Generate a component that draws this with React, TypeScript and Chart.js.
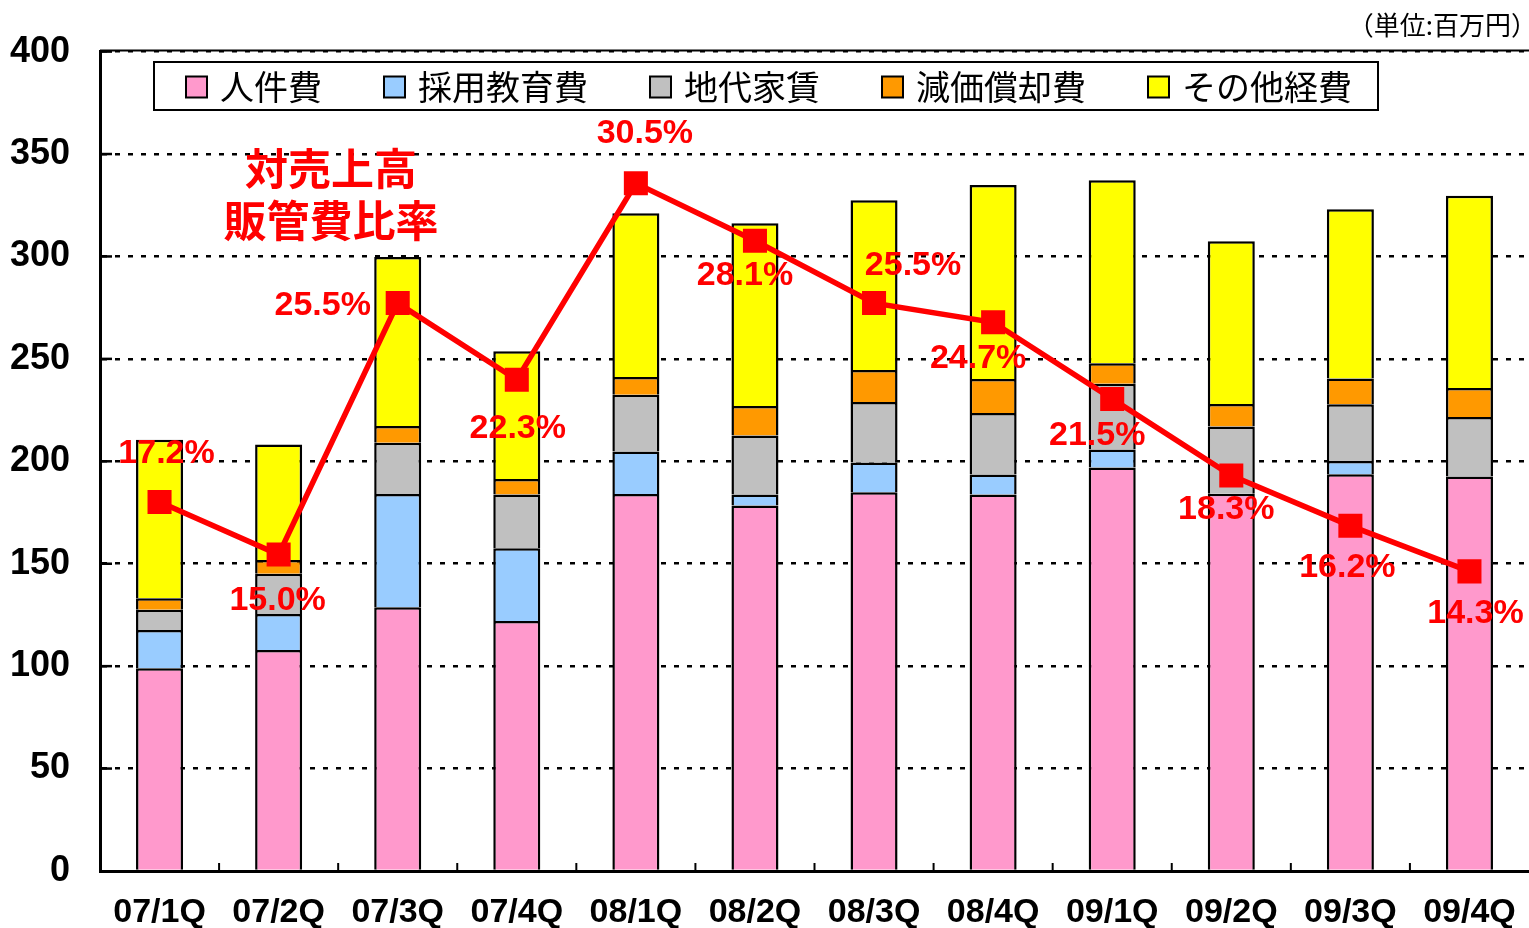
import React, { useEffect, useRef } from 'react';
import { Chart, registerables } from 'chart.js';

Chart.register(...registerables);

const categories = ['07/1Q', '07/2Q', '07/3Q', '07/4Q', '08/1Q', '08/2Q', '08/3Q', '08/4Q', '09/1Q', '09/2Q', '09/3Q', '09/4Q'];
const personnel = [99.0, 107.9, 128.7, 122.1, 184.0, 178.4, 184.9, 183.8, 197.0, 184.1, 193.7, 192.6];
const recruiting = [18.7, 17.5, 55.3, 35.4, 20.8, 5.4, 14.5, 9.7, 8.8, 0, 6.5, 0];
const rent = [9.8, 19.7, 25.0, 26.3, 27.7, 28.8, 29.6, 30.1, 32.1, 32.9, 27.6, 29.0];
const depreciation = [5.6, 6.7, 8.2, 7.6, 8.7, 14.4, 15.6, 16.6, 10.0, 11.0, 12.6, 14.2];
const otherCosts = [77.4, 56.4, 82.5, 62.3, 79.9, 89.2, 82.8, 94.7, 89.3, 79.4, 82.6, 93.8];
const sgaRatio = [17.2, 15.0, 25.5, 22.3, 30.5, 28.1, 25.5, 24.7, 21.5, 18.3, 16.2, 14.3];
const seriesNames = ['人件費', '採用教育費', '地代家賃', '減価償却費', 'その他経費'];
const ratioName = '対売上高販管費比率';
const titleLines = ['対売上高', '販管費比率'];
const unitText = '（単位:百万円）';
const yTickValues = [0, 50, 100, 150, 200, 250, 300, 350, 400];

// label placement offsets (px) for the ratio data labels, relative to each marker
const labelOffsets: [number, number][] = [
  [7, -48], [-1, 46], [-75, 3], [1, 49], [9, -50], [-10, 35],
  [39, -37], [-15, 36], [-15, 37], [-5, 34], [-3, 42], [6, 42],
];

const colors = ['#FF99CC', '#99CCFF', '#C0C0C0', '#FF9900', '#FFFF00'];
const LATIN = '"Liberation Sans", Arial, sans-serif';
const CJK = '"Noto Sans CJK JP", sans-serif';

const decorPlugin = {
  id: 'decor',
  afterDatasetsDraw(chart: any) {
    const { ctx, chartArea, scales } = chart;
    const xs = scales.x;
    const ys = scales.y;
    ctx.save();
    ctx.strokeStyle = '#000';
    // top solid line
    ctx.lineWidth = 2;
    ctx.beginPath();
    ctx.moveTo(chartArea.left, chartArea.top - 1);
    ctx.lineTo(chartArea.right, chartArea.top - 1);
    ctx.stroke();
    // inward y ticks
    ctx.lineWidth = 2.5;
    for (const v of yTickValues) {
      if (v === 0) continue;
      const py = ys.getPixelForValue(v);
      ctx.beginPath();
      ctx.moveTo(chartArea.left, py);
      ctx.lineTo(chartArea.left + 12, py);
      ctx.stroke();
    }
    // inward x ticks at category boundaries
    ctx.lineWidth = 2;
    for (let i = 1; i < categories.length; i++) {
      const px = (xs.getPixelForValue(i - 1) + xs.getPixelForValue(i)) / 2;
      ctx.beginPath();
      ctx.moveTo(px, chartArea.bottom);
      ctx.lineTo(px, chartArea.bottom - 8);
      ctx.stroke();
    }

    // ratio labels
    const meta = chart.getDatasetMeta(5);
    ctx.fillStyle = '#FF0000';
    ctx.font = `bold 34px ${LATIN}`;
    ctx.textAlign = 'center';
    ctx.textBaseline = 'middle';
    meta.data.forEach((el: any, i: number) => {
      const [dx, dy] = labelOffsets[i];
      ctx.fillText(sgaRatio[i].toFixed(1) + '%', el.x + dx, el.y + dy);
    });

    // title annotation
    ctx.font = `bold 43px ${CJK}`;
    ctx.fillText(titleLines[0], 331, 169);
    ctx.fillText(titleLines[1], 331, 221);

    // unit text
    ctx.fillStyle = '#000';
    ctx.font = `26px ${CJK}`;
    ctx.textAlign = 'right';
    ctx.fillText(unitText, 1537, 25);

    // legend
    const boxTop = 62;
    const boxBottom = 110;
    const boxLeft = 154;
    ctx.font = `34px ${CJK}`;
    const sq = 21;
    const gapSqText = 13;
    const gapItem = 62;
    const widths = seriesNames.map((n) => ctx.measureText(n).width);
    let total = 0;
    widths.forEach((w, i) => {
      total += sq + gapSqText + w + (i < widths.length - 1 ? gapItem : 0);
    });
    const boxRight = boxLeft + 32 + total + 26;
    ctx.fillStyle = '#fff';
    ctx.fillRect(boxLeft, boxTop, boxRight - boxLeft, boxBottom - boxTop);
    ctx.lineWidth = 2;
    ctx.strokeStyle = '#000';
    ctx.strokeRect(boxLeft, boxTop, boxRight - boxLeft, boxBottom - boxTop);
    let cx = boxLeft + 32;
    const cy = (boxTop + boxBottom) / 2 + 1;
    ctx.textAlign = 'left';
    ctx.textBaseline = 'middle';
    seriesNames.forEach((n, i) => {
      ctx.fillStyle = colors[i];
      ctx.fillRect(cx, cy - sq / 2, sq, sq);
      ctx.lineWidth = 2;
      ctx.strokeStyle = '#000';
      ctx.strokeRect(cx, cy - sq / 2, sq, sq);
      ctx.fillStyle = '#000';
      ctx.fillText(n, cx + sq + gapSqText, cy);
      cx += sq + gapSqText + widths[i] + gapItem;
    });
    ctx.restore();
  },
};

export default function App() {
  const ref = useRef<HTMLCanvasElement | null>(null);
  useEffect(() => {
    if (!ref.current) return;
    const barSet = (label: string, data: number[], color: string) => ({
      type: 'bar' as const,
      label,
      data,
      backgroundColor: color,
      borderColor: '#000',
      borderWidth: 2.5,
      stack: 'costs',
      order: 1,
      barPercentage: 0.395,
      categoryPercentage: 1,
    });
    const chart = new Chart(ref.current, {
      type: 'bar',
      data: {
        labels: categories,
        datasets: [
          barSet(seriesNames[0], personnel, colors[0]),
          barSet(seriesNames[1], recruiting, colors[1]),
          barSet(seriesNames[2], rent, colors[2]),
          barSet(seriesNames[3], depreciation, colors[3]),
          barSet(seriesNames[4], otherCosts, colors[4]),
          {
            type: 'line' as const,
            label: ratioName,
            data: sgaRatio,
            yAxisID: 'y2',
            borderColor: '#FF0000',
            borderWidth: 5.5,
            backgroundColor: '#FF0000',
            pointStyle: 'rect',
            pointRadius: 17,
            pointBackgroundColor: '#FF0000',
            pointBorderColor: '#FF0000',
            pointBorderWidth: 0,
            tension: 0,
            order: 0,
          } as any,
        ],
      },
      options: {
        responsive: false,
        animation: false,
        events: [],
        layout: { autoPadding: false, padding: { top: 50, right: 0, left: 0, bottom: 0 } },
        plugins: {
          legend: { display: false },
          tooltip: { enabled: false },
          title: { display: false },
        },
        scales: {
          x: {
            stacked: true,
            offset: true,
            grid: { display: false, drawTicks: false },
            border: { display: true, color: '#000', width: 3 },
            ticks: {
              color: '#000',
              font: { family: LATIN, size: 34, weight: 'bold' },
              padding: 21,
              maxRotation: 0,
              autoSkip: false,
            },
            afterFit: (scale: any) => {
              scale.height = 57;
              scale.paddingLeft = 0;
              scale.paddingRight = 0;
            },
          },
          y: {
            stacked: true,
            min: 0,
            max: 400,
            ticks: {
              stepSize: 50,
              color: '#000',
              font: { family: LATIN, size: 36, weight: 'bold' },
              padding: 30,
            },
            grid: { color: '#000', lineWidth: 2.5, drawTicks: false },
            border: { display: true, color: '#000', width: 3, dash: [5, 8] },
            afterFit: (scale: any) => {
              scale.width = 100;
            },
          },
          y2: {
            display: false,
            min: 1.79,
            max: 36.0,
          },
        },
      } as any,
      plugins: [decorPlugin],
    });
    return () => chart.destroy();
  }, []);
  return (
    <div style={{ position: 'fixed', left: 0, top: 0, width: 1529, height: 928, background: '#fff' }}>
      <canvas ref={ref} width={1529} height={928} style={{ width: 1529, height: 928, display: 'block' }} />
    </div>
  );
}
